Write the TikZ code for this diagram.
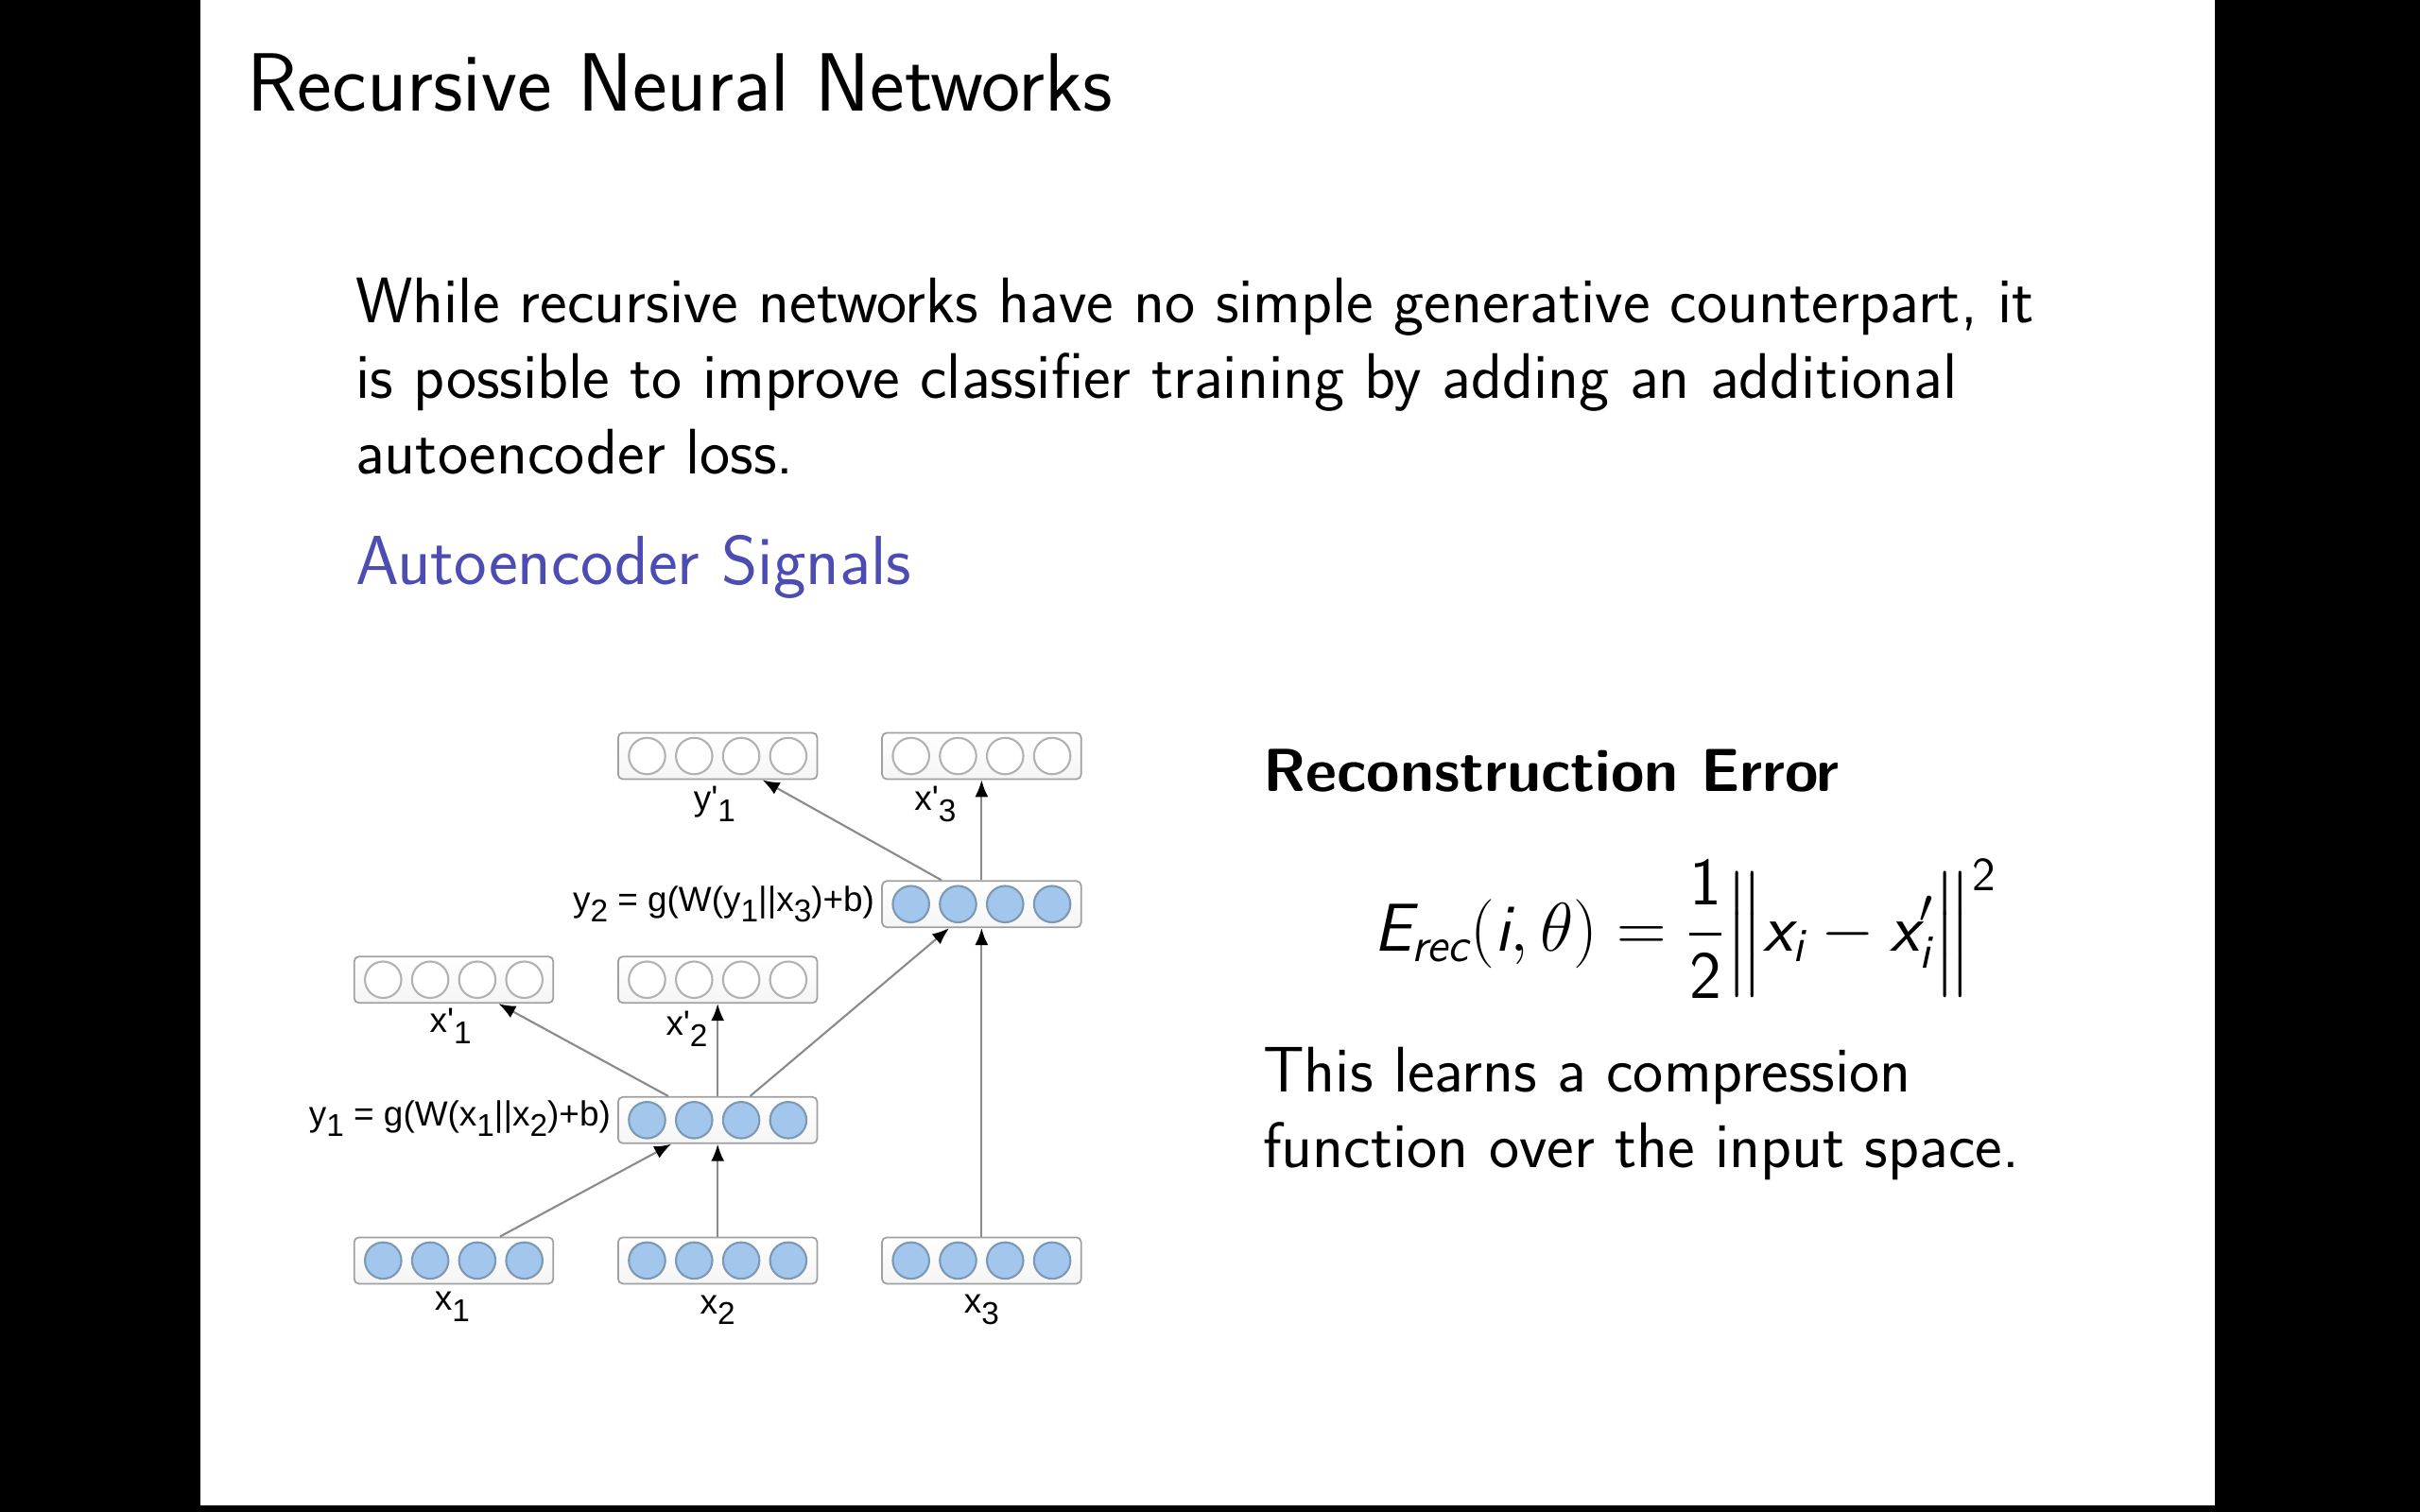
\documentclass[tikz,border=0pt]{standalone}
\usepackage{amsmath}
\usepackage{fontspec}
\newfontfamily\arial{Liberation Sans}
\usetikzlibrary{arrows.meta,calc}
\definecolor{neufill}{HTML}{A3C6EC}
\definecolor{neudraw}{HTML}{7D98B3}
\definecolor{boxdraw}{HTML}{A0A0A0}
\definecolor{arrline}{HTML}{8A8A8A}
\definecolor{blocktitle}{rgb}{0.3,0.3,0.7}
\newcommand\dsb[1]{\raisebox{-0.6ex}{\fontsize{9.5}{9.5}\selectfont #1}}
\newcommand\sfi[1]{\text{\sffamily\itshape #1}}
\newcommand\layerbox[4]{%
  \node[layer] (#1) at (#2,#3) {};
  \foreach \k in {1,...,4} \node[#4] (#1c\k) at ($(#1.center)+({(\k-2.5)*30.5},0)$) {};
}
\begin{document}
\begin{tikzpicture}[x=0.16327mm,y=-0.16327mm,
  layer/.style={draw=boxdraw, rounded corners=0.5mm, minimum width=21.06mm, minimum height=4.9mm, inner sep=0pt, top color=white, bottom color=gray!8, line width=0.5pt},
  full/.style={circle, draw=neudraw, fill=neufill, minimum size=3.85mm, inner sep=0pt, line width=0.6pt},
  empty/.style={circle, draw=gray!60, fill=white, minimum size=3.85mm, inner sep=0pt, line width=0.6pt},
  lab/.style={font=\arial\fontsize{10.5}{12}\selectfont, inner sep=0pt},
  conn/.style={draw=arrline, line width=0.6pt, -{Latex[length=1.8mm,width=1.4mm,color=black]}},
  body/.style={font=\sffamily\fontsize{19.4}{23}\selectfont, inner sep=0pt, anchor=base west}
]
\useasboundingbox (0,0) rectangle (1568,980);
\fill[black] (0,0) rectangle (1568,980);
\fill[white] (130,0) rectangle (1435,976);

% text
\node[font=\sffamily\fontsize{24.9}{29}\selectfont, anchor=base west, inner sep=0pt] (title) at (160,72) {Recursive Neural Networks};
\node[body] (para1) at (230,209) {While recursive networks have no simple generative counterpart, it};
\node[body] (para2) at (230,258) {is possible to improve classifier training by adding an additional};
\node[body] (para3) at (230,307) {autoencoder loss.};
\node[body, text=blocktitle, font=\sffamily\fontsize{20.9}{25}\selectfont] (blk) at (230,379) {Autoencoder Signals};
\node[body, font=\sffamily\bfseries\fontsize{18.3}{22.7}\selectfont] (rec) at (818,513) {Reconstruction Error};
\node[inner sep=0pt, font=\fontsize{20.4}{24}\selectfont] (eq) at (1092,602)
  {$\displaystyle \sfi{E}_{\sfi{rec}}(\sfi{i},\theta)=\frac{\textsf{1}}{\textsf{2}}\Big\|\sfi{x}_{\sfi{i}}-\sfi{x}'_{\sfi{i}}\Big\|^{\textsf{2}}$};
\node[body] (c1) at (818,708) {This learns a compression};
\node[body] (c2) at (818,757) {function over the input space.};

% layers
\layerbox{yp1}{465}{490}{empty}
\layerbox{xp3}{636}{490}{empty}
\layerbox{y2}{636}{586}{full}
\layerbox{xp1}{294}{635}{empty}
\layerbox{xp2}{465}{635}{empty}
\layerbox{y1}{465}{726}{full}
\layerbox{x1}{294}{817}{full}
\layerbox{x2}{465}{817}{full}
\layerbox{x3}{636}{817}{full}

% labels
\node[lab] (lx1) at (293,847) {x\dsb{1}};
\node[lab] (lx2) at (465,849) {x\dsb{2}};
\node[lab] (lx3) at (636,849) {x\dsb{3}};
\node[lab] (lxp1) at (292,665) {x\textquotesingle\dsb{1}};
\node[lab] (lxp2) at (445,667) {x\textquotesingle\dsb{2}};
\node[lab] (lyp1) at (463,521) {y\textquotesingle\dsb{1}};
\node[lab] (lxp3) at (606,521) {x\textquotesingle\dsb{3}};
\node[lab, anchor=east] (ly1) at (396,725) {y\dsb{1} = g(W(x\dsb{1}||x\dsb{2})+b)};
\node[lab, anchor=east] (ly2) at (567,586) {y\dsb{2} = g(W(y\dsb{1}||x\dsb{3})+b)};

% connectors
\draw[conn] ($(x1.north)+(30,0)$) -- ($(y1.south)+(-30,0)$);
\draw[conn] (x2) -- (y1);
\draw[conn] ($(y1.north)+(-32,0)$) -- ($(xp1.south)+(29,0)$);
\draw[conn] (y1) -- (xp2);
\draw[conn] ($(y1.north)+(21,0)$) -- ($(y2.south)+(-21,0)$);
\draw[conn] (x3) -- (y2);
\draw[conn] ($(y2.north)+(-26,0)$) -- ($(yp1.south)+(29,0)$);
\draw[conn] (y2) -- (xp3);
\end{tikzpicture}
\end{document}
